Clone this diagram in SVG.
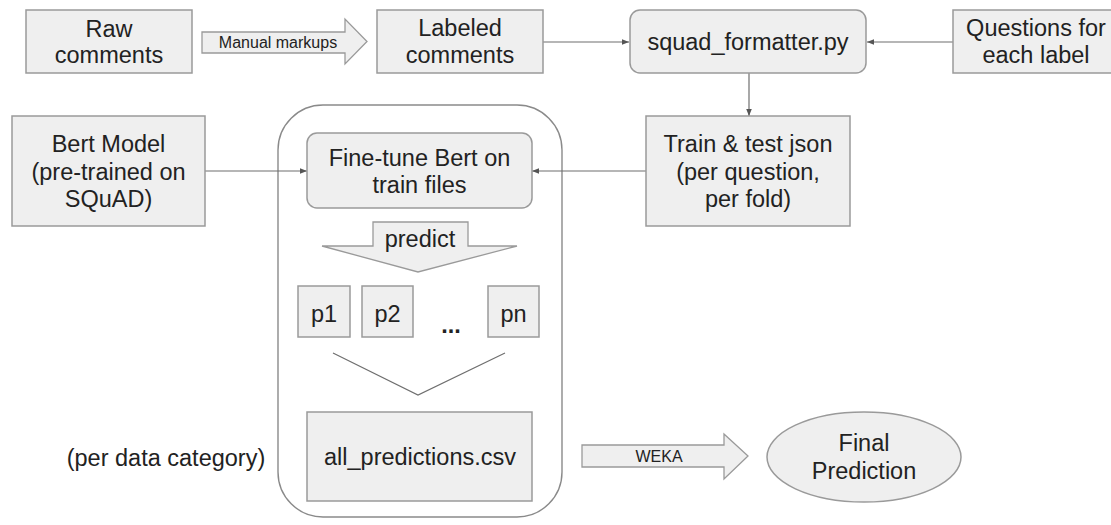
<svg xmlns="http://www.w3.org/2000/svg" width="1111" height="525" viewBox="0 0 1111 525">
<defs>
<style>
text{font-family:"Liberation Sans",Arial,sans-serif;fill:#222222;text-anchor:middle}
.t{font-size:23.5px}
.s{font-size:16px}
.box{fill:#efefef;stroke:#9a9a9a;stroke-width:1.5}
.conn{stroke:#6f6f6f;stroke-width:1.2;fill:none}
.fat{fill:#efefef;stroke:#9a9a9a;stroke-width:1.3}
</style>
<marker id="ah" viewBox="0 0 10 10" refX="10" refY="5" markerWidth="7" markerHeight="7" markerUnits="userSpaceOnUse" orient="auto">
<path d="M0,1 L10,5 L0,9 z" fill="#555"/>
</marker>
</defs>
<rect width="1111" height="525" fill="#ffffff"/>

<g id="container">
<rect x="278" y="105" width="284" height="412" rx="45" ry="45" fill="none" stroke="#8a8a8a" stroke-width="1.4"/>
</g>

<g id="connectors">
<line class="conn" x1="543" y1="42" x2="629" y2="42" marker-end="url(#ah)"/>
<line class="conn" x1="953" y1="42" x2="867" y2="42" marker-end="url(#ah)"/>
<line class="conn" x1="749" y1="73" x2="749" y2="116" marker-end="url(#ah)"/>
<line class="conn" x1="205" y1="171" x2="307" y2="171" marker-end="url(#ah)"/>
<line class="conn" x1="646" y1="171" x2="532" y2="171" marker-end="url(#ah)"/>
<polyline class="conn" points="333,353 418,395 505,353" stroke="#888"/>
</g>

<g id="raw-comments">
<rect class="box" x="26" y="10" width="166" height="63"/>
<text class="t" x="109" y="37">Raw</text>
<text class="t" x="109" y="63">comments</text>
</g>

<g id="manual-markups">
<polygon class="fat" points="202,32 345,32 345,19 367,41.5 345,64 345,53 202,53"/>
<text class="s" x="278" y="48">Manual markups</text>
</g>

<g id="labeled-comments">
<rect class="box" x="377" y="10" width="166" height="63"/>
<text class="t" x="460" y="36">Labeled</text>
<text class="t" x="460" y="63">comments</text>
</g>

<g id="squad-formatter">
<rect class="box" x="630" y="10" width="236" height="63" rx="10" ry="10"/>
<text class="t" x="748" y="50">squad_formatter.py</text>
</g>

<g id="questions">
<rect class="box" x="953" y="10" width="166" height="63"/>
<text class="t" x="1036" y="36">Questions for</text>
<text class="t" x="1036" y="63">each label</text>
</g>

<g id="bert-model">
<rect class="box" x="12" y="116" width="193" height="110"/>
<text class="t" x="108.5" y="152">Bert Model</text>
<text class="t" x="108.5" y="180">(pre-trained on</text>
<text class="t" x="108.5" y="207">SQuAD)</text>
</g>

<g id="train-test">
<rect class="box" x="646" y="116" width="204" height="110"/>
<text class="t" x="748" y="152">Train &amp; test json</text>
<text class="t" x="748" y="180">(per question,</text>
<text class="t" x="748" y="207">per fold)</text>
</g>

<g id="fine-tune">
<rect class="box" x="307" y="133" width="225" height="75" rx="10" ry="10"/>
<text class="t" x="419.5" y="166">Fine-tune Bert on</text>
<text class="t" x="419.5" y="193">train files</text>
</g>

<g id="predict">
<polygon class="fat" points="373,222 468,222 468,246 517,246 418,272 322,246 373,246"/>
<text class="t" x="420" y="247">predict</text>
</g>

<g id="p1">
<rect class="box" x="298" y="286" width="52" height="51"/>
<text class="t" x="324" y="322">p1</text>
</g>
<g id="p2">
<rect class="box" x="362" y="286" width="51" height="51"/>
<text class="t" x="387.5" y="322">p2</text>
</g>
<g id="ellipsis">
<text class="t" x="451" y="333" font-weight="bold">...</text>
</g>
<g id="pn">
<rect class="box" x="488" y="286" width="51" height="51"/>
<text class="t" x="513.5" y="322">pn</text>
</g>

<g id="all-predictions">
<rect class="box" x="307" y="412" width="225" height="89"/>
<text class="t" x="420" y="465">all_predictions.csv</text>
</g>

<g id="per-data-category">
<text class="t" x="166" y="466">(per data category)</text>
</g>

<g id="weka">
<polygon class="fat" points="582,445 724,445 724,434 748,456 724,479 724,467 582,467"/>
<text class="s" x="659" y="462">WEKA</text>
</g>

<g id="final-prediction">
<ellipse cx="864" cy="457" rx="97" ry="45" fill="#efefef" stroke="#9a9a9a" stroke-width="1.5"/>
<text class="t" x="864" y="451">Final</text>
<text class="t" x="864" y="479">Prediction</text>
</g>
</svg>
